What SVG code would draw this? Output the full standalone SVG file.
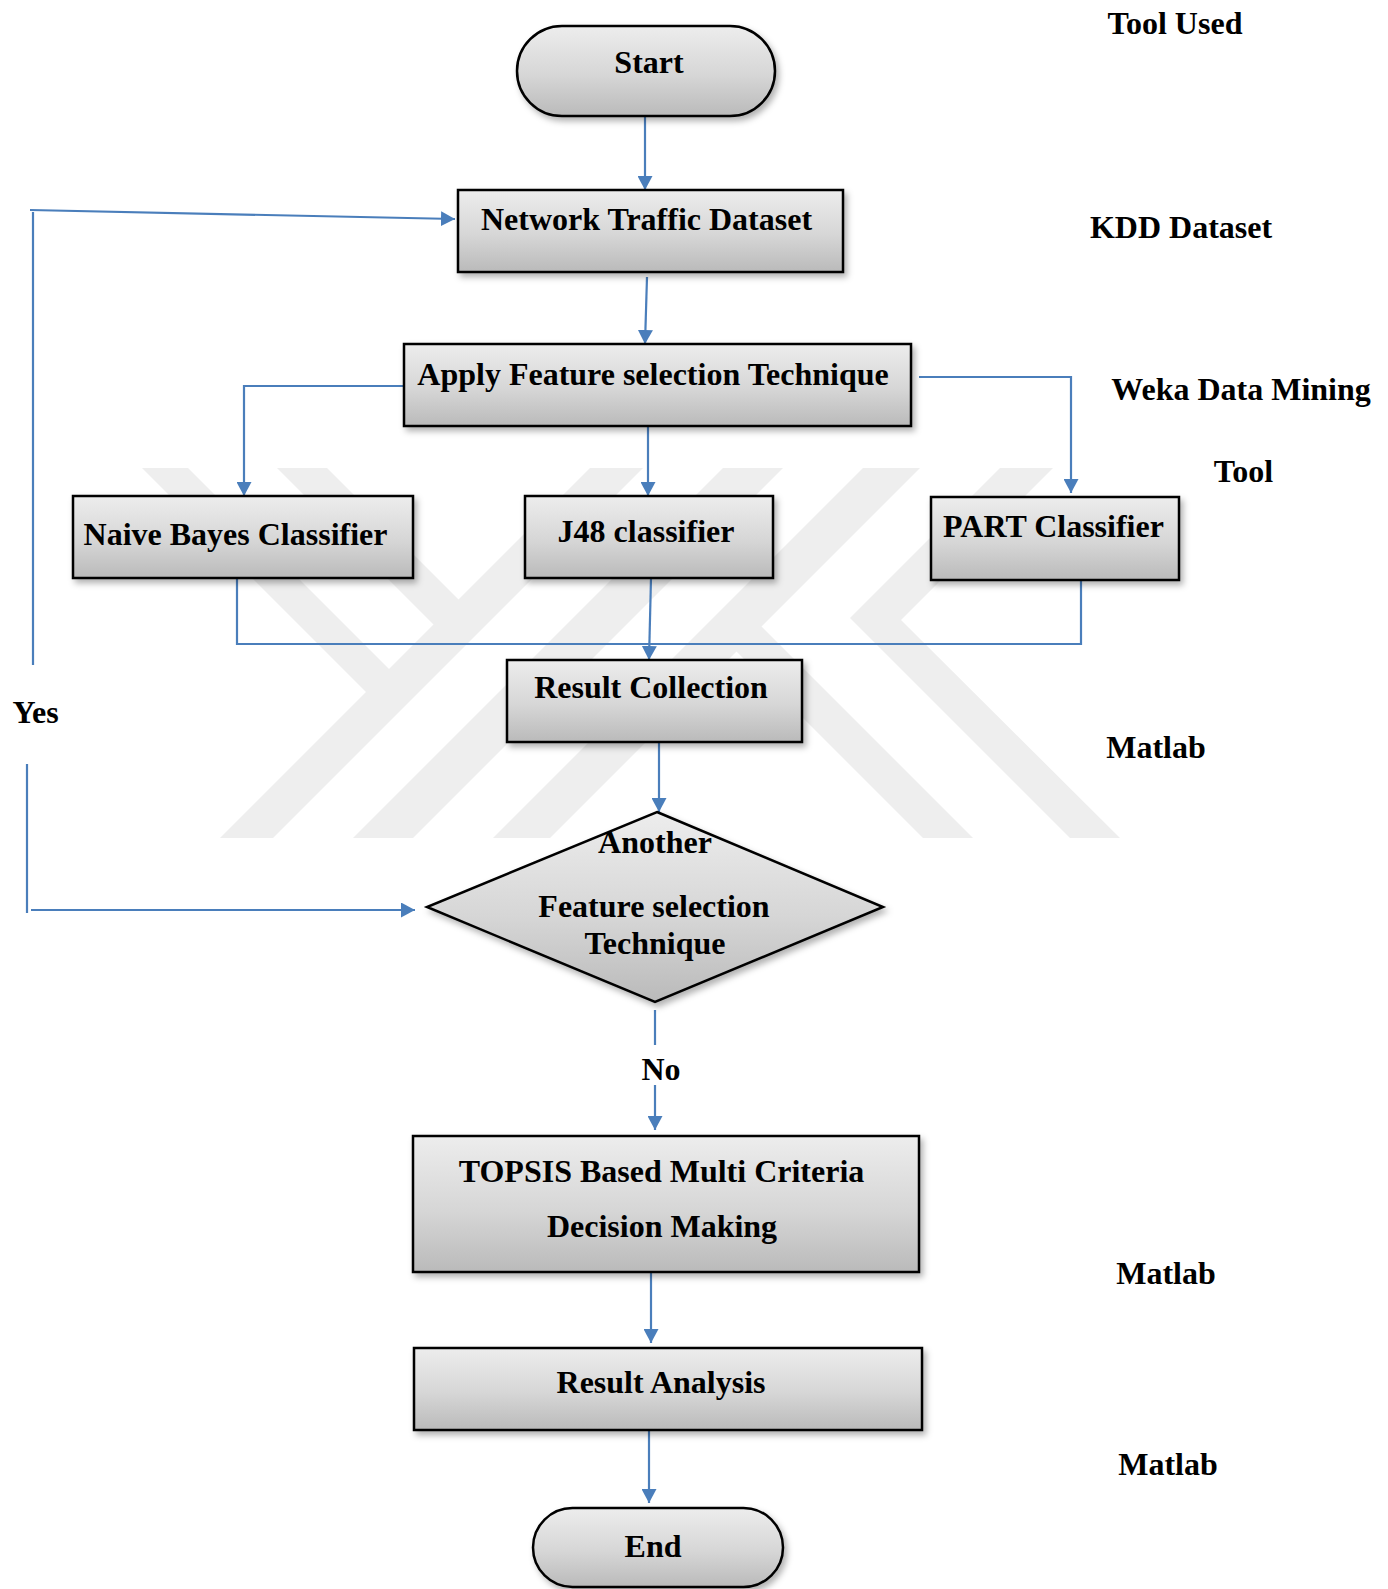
<svg xmlns="http://www.w3.org/2000/svg" width="1388" height="1589" viewBox="0 0 1388 1589">
  <style>
    .box { fill: url(#boxFill); stroke: #000; stroke-width: 2.5; filter: url(#shadow); }
    .lbl { font-family: "Liberation Serif", "Times New Roman", serif; font-weight: bold; font-size: 32px; fill: #000; text-anchor: middle; }
    .side { font-family: "Liberation Serif", "Times New Roman", serif; font-weight: bold; font-size: 32px; fill: #000; text-anchor: middle; }
    .wire { fill: none; stroke: #4a7ebb; stroke-width: 2.2; }
    .wire-arrow { fill: none; stroke: #4a7ebb; stroke-width: 2.2; marker-end: url(#arrow); }
    .wm { fill: #eeeeee; }
  </style>
  <defs>
    <linearGradient id="boxFill" x1="0" y1="0" x2="0" y2="1">
      <stop offset="0" stop-color="#ededed"/>
      <stop offset="0.55" stop-color="#d6d6d6"/>
      <stop offset="1" stop-color="#bababa"/>
    </linearGradient>
    <filter id="shadow" x="-10%" y="-10%" width="125%" height="135%">
      <feDropShadow dx="3" dy="4" stdDeviation="3" flood-color="#000" flood-opacity="0.3"/>
    </filter>
    <marker id="arrow" markerUnits="userSpaceOnUse" markerWidth="15" markerHeight="15" refX="14" refY="7.5" orient="auto">
      <path d="M0,0 L14,7.5 L0,15 z" fill="#4a7ebb"/>
    </marker>
  </defs>

  <rect width="1388" height="1589" fill="#ffffff"/>

  <!-- faint background emblem made of diagonal bands -->
  <g id="emblem">
    <polygon class="wm" points="142,468 188,468 402,682 379,705"/>
    <polygon class="wm" points="277,468 327,468 472,613 447,638"/>
    <polygon class="wm" points="590,468 643,468 273,838 220,838"/>
    <polygon class="wm" points="723,468 783,468 413,838 353,838"/>
    <polygon class="wm" points="863,468 920,468 550,838 493,838"/>
    <polygon class="wm" points="1000,468 1053,468 901,620 1120,838 1070,838 850,618"/>
    <polygon class="wm" points="722,637 747,612 973,838 923,838"/>
  </g>

  <!-- connectors -->
  <g id="connectors">
    <line class="wire-arrow" x1="645" y1="116" x2="645" y2="190"/>
    <line class="wire-arrow" x1="647" y1="277" x2="645" y2="344"/>
    <polyline class="wire-arrow" points="404,386 244,386 244,496"/>
    <line class="wire-arrow" x1="648" y1="426" x2="648" y2="496"/>
    <polyline class="wire-arrow" points="919,377 1071,377 1071,493"/>
    <polyline class="wire" points="237,578 237,644 1081,644 1081,580"/>
    <line class="wire-arrow" x1="651" y1="578" x2="649" y2="660"/>
    <line class="wire-arrow" x1="659" y1="742" x2="659" y2="812"/>
    <!-- yes loop back to the dataset -->
    <line class="wire" x1="33" y1="665" x2="33" y2="212"/>
    <line class="wire-arrow" x1="30" y1="210" x2="455" y2="219"/>
    <line class="wire" x1="27" y1="764" x2="27" y2="913"/>
    <line class="wire-arrow" x1="31" y1="910" x2="415" y2="910"/>
    <!-- no branch -->
    <line class="wire" x1="655" y1="1010" x2="655" y2="1045"/>
    <line class="wire-arrow" x1="655" y1="1085" x2="655" y2="1130"/>
    <line class="wire-arrow" x1="651" y1="1272" x2="651" y2="1343"/>
    <line class="wire-arrow" x1="649" y1="1430" x2="649" y2="1503"/>
  </g>

  <!-- nodes -->
  <g id="start">
    <rect class="box" x="517" y="26" width="258" height="90" rx="45" ry="45"/>
    <text class="lbl" x="649" y="73">Start</text>
  </g>
  <g id="dataset">
    <rect class="box" x="458" y="190" width="385" height="82"/>
    <text class="lbl" x="646.5" y="230">Network Traffic Dataset</text>
  </g>
  <g id="feature-selection">
    <rect class="box" x="404" y="344" width="507" height="82"/>
    <text class="lbl" x="653" y="385">Apply Feature selection Technique</text>
  </g>
  <g id="naive-bayes">
    <rect class="box" x="73" y="496" width="340" height="82"/>
    <text class="lbl" x="235.5" y="545">Naive Bayes Classifier</text>
  </g>
  <g id="j48">
    <rect class="box" x="525" y="496" width="248" height="82"/>
    <text class="lbl" x="646" y="542">J48 classifier</text>
  </g>
  <g id="part">
    <rect class="box" x="931" y="497" width="248" height="83"/>
    <text class="lbl" x="1053.5" y="537">PART Classifier</text>
  </g>
  <g id="result-collection">
    <rect class="box" x="507" y="660" width="295" height="82"/>
    <text class="lbl" x="651" y="698">Result Collection</text>
  </g>
  <g id="decision">
    <polygon class="box" points="657,812 883,907 655,1002 427,907"/>
    <text class="lbl" x="655" y="853">Another</text>
    <text class="lbl" x="654" y="917">Feature selection</text>
    <text class="lbl" x="655" y="954">Technique</text>
  </g>
  <g id="topsis">
    <rect class="box" x="413" y="1136" width="506" height="136"/>
    <text class="lbl" x="661.5" y="1182">TOPSIS Based Multi Criteria</text>
    <text class="lbl" x="662" y="1237">Decision Making</text>
  </g>
  <g id="result-analysis">
    <rect class="box" x="414" y="1348" width="508" height="82"/>
    <text class="lbl" x="661" y="1393">Result Analysis</text>
  </g>
  <g id="end">
    <rect class="box" x="533" y="1508" width="250" height="79" rx="39.5" ry="39.5"/>
    <text class="lbl" x="653" y="1557">End</text>
  </g>

  <!-- branch labels -->
  <g id="branch-labels">
    <text class="side" x="35.5" y="723">Yes</text>
    <text class="side" x="661" y="1080">No</text>
  </g>

  <!-- tool column -->
  <g id="tools">
    <text class="side" x="1175" y="34">Tool Used</text>
    <text class="side" x="1181" y="238">KDD Dataset</text>
    <text class="side" x="1241" y="400">Weka Data Mining</text>
    <text class="side" x="1243.5" y="482">Tool</text>
    <text class="side" x="1156" y="758">Matlab</text>
    <text class="side" x="1166" y="1284">Matlab</text>
    <text class="side" x="1168" y="1475">Matlab</text>
  </g>
</svg>
